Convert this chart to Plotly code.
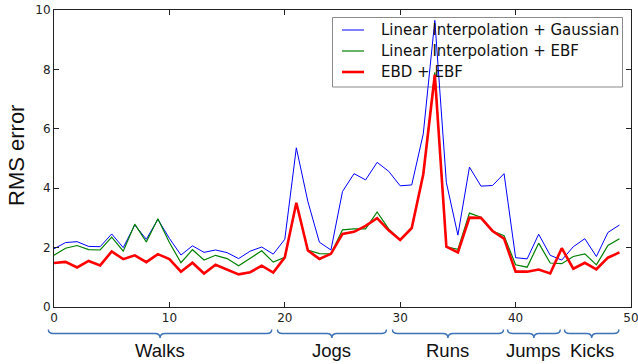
import plotly.graph_objects as go

x_idx = list(range(50))

lin_gauss = [1.96, 2.17, 2.20, 2.04, 2.03, 2.46, 2.00, 2.76, 2.28, 2.95,
             2.31, 1.75, 2.06, 1.84, 1.92, 1.83, 1.63, 1.88, 2.02, 1.78,
             2.28, 5.36, 3.55, 2.18, 1.92, 3.89, 4.49, 4.28, 4.87, 4.57,
             4.08, 4.11, 5.83, 9.65, 4.19, 2.42, 4.71, 4.07, 4.09, 4.49,
             1.66, 1.62, 2.45, 1.74, 1.58, 2.03, 2.30, 1.70, 2.51, 2.76]

lin_ebf = [1.74, 1.98, 2.07, 1.93, 1.92, 2.35, 1.88, 2.79, 2.19, 2.97,
           2.17, 1.49, 1.93, 1.58, 1.74, 1.63, 1.39, 1.63, 1.89, 1.51,
           1.67, 3.50, 1.92, 1.80, 1.79, 2.60, 2.63, 2.63, 3.20, 2.63,
           2.26, 2.66, 4.47, 7.90, 2.03, 1.94, 3.16, 3.02, 2.56, 2.40,
           1.42, 1.34, 2.15, 1.48, 1.46, 1.70, 1.79, 1.42, 2.07, 2.30]

ebd_ebf = [1.48, 1.52, 1.33, 1.55, 1.40, 1.87, 1.61, 1.74, 1.51, 1.78,
           1.61, 1.19, 1.49, 1.13, 1.42, 1.25, 1.10, 1.17, 1.39, 1.16,
           1.67, 3.51, 1.90, 1.62, 1.79, 2.46, 2.53, 2.73, 2.99, 2.58,
           2.26, 2.66, 4.47, 7.82, 2.03, 1.84, 3.01, 3.00, 2.56, 2.30,
           1.19, 1.19, 1.26, 1.13, 1.98, 1.29, 1.49, 1.27, 1.66, 1.84]

series_names = ["Linear Interpolation + Gaussian", "Linear Interpolation + EBF", "EBD + EBF"]
series_colors = ["#0000ff", "#008000", "#ff0000"]
series_widths = [1.0, 1.2, 2.6]

group_labels = ["Walks", "Jogs", "Runs", "Jumps", "Kicks"]
group_start = [-0.49, 19.36, 29.33, 39.3, 44.24]
group_end = [18.87, 28.8, 38.95, 43.87, 48.95]

X_MAX = 50.0
Y_MAX = 10.0

W, H = 638, 364
ML, MR, MT, MB = 54, 7, 10, 57
PW, PH = W - ML - MR, H - MT - MB


def px_x(p):
    return (p - ML) / PW


def px_y(p):
    return (H - MB - p) / PH


fig = go.Figure()
for ys, name, col, lw in zip([lin_gauss, lin_ebf, ebd_ebf], series_names, series_colors, series_widths):
    fig.add_trace(go.Scatter(x=x_idx, y=ys, mode="lines", name=name,
                             line=dict(color=col, width=lw), showlegend=False))

shapes = []
annotations = []

# manual legend
shapes.append(dict(type="rect", xref="paper", yref="paper",
                   x0=px_x(332.5), x1=px_x(622.5), y0=px_y(87), y1=px_y(17.5),
                   line=dict(color="#8a8a8a", width=1), fillcolor="rgba(255,255,255,0)", layer="below"))
row_y = [30, 51, 72]
for name, col, lw, ry in zip(series_names, series_colors, series_widths, row_y):
    shapes.append(dict(type="line", xref="paper", yref="paper",
                       x0=px_x(342), x1=px_x(364), y0=px_y(ry), y1=px_y(ry),
                       line=dict(color=col, width=lw)))
    annotations.append(dict(text=name, xref="paper", yref="paper", x=px_x(379), y=px_y(ry),
                            xanchor="left", yanchor="middle", showarrow=False,
                            font=dict(family="DejaVu Sans", size=15, color="#111")))

# braces under the axis
ytop, ymid, ytip = 329.5, 333.5, 338
for lab, a, b in zip(group_labels, group_start, group_end):
    xa, xb = a / X_MAX, b / X_MAX
    xc = (xa + xb) / 2
    w = 5.0 / PW
    yt, ym, yk = px_y(ytop), px_y(ymid), px_y(ytip)
    path = (f"M {xa},{yt} Q {xa},{ym} {xa + w},{ym} L {xc - w},{ym} "
            f"Q {xc},{ym} {xc},{yk} Q {xc},{ym} {xc + w},{ym} L {xb - w},{ym} "
            f"Q {xb},{ym} {xb},{yt}")
    shapes.append(dict(type="path", xref="paper", yref="paper", path=path,
                       line=dict(color="#3d72b8", width=1.4)))
    annotations.append(dict(text=lab, xref="paper", yref="paper", x=xc, y=px_y(350),
                            xanchor="center", yanchor="middle", showarrow=False,
                            font=dict(family="Liberation Sans", size=18.5, color="#111")))

# y-axis title
annotations.append(dict(text="RMS error", xref="paper", yref="paper", x=px_x(16), y=px_y(156),
                        xanchor="center", yanchor="middle", textangle=-90, showarrow=False,
                        font=dict(family="Liberation Sans", size=22, color="#111")))

axis_common = dict(showline=True, linecolor="#222", linewidth=1, mirror="ticks",
                   ticks="inside", ticklen=5, tickcolor="#222", tickwidth=1,
                   showgrid=False, zeroline=False, automargin=False,
                   ticklabeloverflow="allow",
                   tickfont=dict(family="DejaVu Sans", size=12, color="#222"))

fig.update_layout(
    width=W, height=H,
    margin=dict(l=ML, r=MR, t=MT, b=MB, pad=0, autoexpand=False),
    paper_bgcolor="white", plot_bgcolor="white",
    xaxis=dict(range=[0, X_MAX], dtick=10, tick0=0, **axis_common),
    yaxis=dict(range=[0, Y_MAX], dtick=2, tick0=0, **axis_common),
    shapes=shapes, annotations=annotations, showlegend=False,
)

fig.write_html("out.html")
